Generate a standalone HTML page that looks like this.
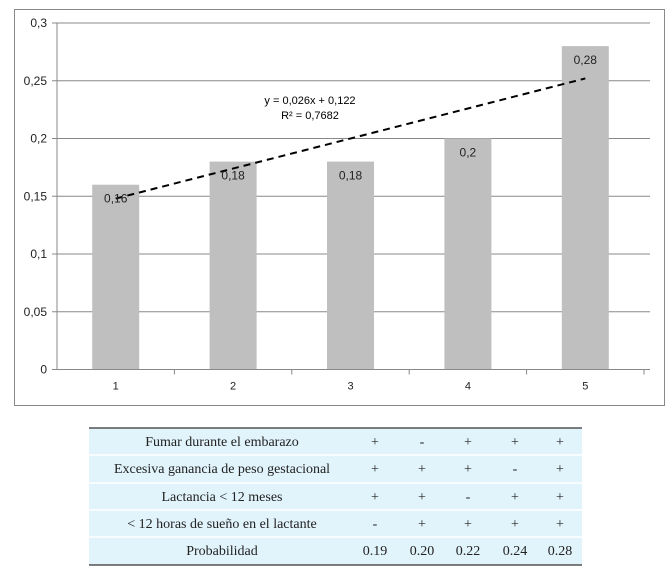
<!DOCTYPE html>
<html><head><meta charset="utf-8"><style>
body{margin:0;background:#fff;width:667px;height:572px;overflow:hidden;font-family:"Liberation Sans",sans-serif}
svg{position:absolute;left:0;top:0}
</style></head><body>
<svg width="667" height="572">
<rect x="14.5" y="9.5" width="650" height="396" fill="#fff" stroke="#888"/>
<g id="plot"></g>
<g id="tbl"></g>
</svg>
<script>
const categories=["1","2","3","4","5"];
const values=[0.16,0.18,0.18,0.2,0.28];
const labels=["0,16","0,18","0,18","0,2","0,28"];
const yTicks=[0,0.05,0.1,0.15,0.2,0.25,0.3];
const yTickLabels=["0","0,05","0,1","0,15","0,2","0,25","0,3"];
const trendSlope=0.026, trendIntercept=0.122;
const rowLabels=["Fumar durante el embarazo","Excesiva ganancia de peso gestacional","Lactancia < 12 meses","< 12 horas de sueño en el lactante","Probabilidad"];
const tableValues=[["+","-","+","+","+"],["+","+","+","-","+"],["+","+","-","+","+"],["-","+","+","+","+"],["0.19","0.20","0.22","0.24","0.28"]];

const NS="http://www.w3.org/2000/svg";
function mk(p,t,a,txt){const e=document.createElementNS(NS,t);for(const k in a)e.setAttribute(k,a[k]);if(txt!=null)e.textContent=txt;p.appendChild(e);return e;}
const x0=57,x1=644,y0=369.5,y1=23;
const y=v=>y0-(v-0)/(0.3)*(y0-y1);
const bw=(x1-x0)/categories.length;
const xc=i=>x0+bw*(i+0.5);
const g=document.getElementById('plot');
yTicks.forEach((t,i)=>{
  const l=mk(g,'line',{x1:x0-5,x2:x1+6,y1:y(t),y2:y(t),stroke:'#888','stroke-width':1});
  
  
  const tx=mk(g,'text',{x:x0-10,y:y(t)+4,'text-anchor':'end','font-size':12,fill:'#222'},yTickLabels[i]);
  
  
});
mk(g,'line',{x1:x0,x2:x0,y1:y1,y2:y0,stroke:'#888'});
categories.forEach((c,i)=>{
  const b=mk(g,'rect',{x:xc(i)-23.5,y:y(values[i]),width:47,height:y0-y(values[i]),fill:'#bfbfbf'});
  
  
  const tk=mk(g,'line',{x1:x0+bw*(i+1),x2:x0+bw*(i+1),y1:y0,y2:y0+5,stroke:'#888'});
  
  
  const t=mk(g,'text',{x:xc(i),y:y0+20,'text-anchor':'middle','font-size':11,fill:'#222'},c);
  
  
});
mk(g,'line',{x1:x0,x2:x1+6,y1:y0,y2:y0,stroke:'#888'});
const tl=mk(g,'line',{x1:xc(0),y1:y(trendSlope*1+trendIntercept),x2:xc(4),y2:y(trendSlope*5+trendIntercept),stroke:'#000','stroke-width':2,'stroke-dasharray':'7,5'});


categories.forEach((c,i)=>{
  const t=mk(g,'text',{x:xc(i),y:y(values[i])+18,'text-anchor':'middle','font-size':12,fill:'#222'},labels[i]);
  
  
});
const e1=mk(g,'text',{x:310,y:104,'text-anchor':'middle','font-size':11,fill:'#000'},'y = 0,026x + 0,122');


const e2=mk(g,'text',{x:310,y:119,'text-anchor':'middle','font-size':11,fill:'#000'},'R² = 0,7682');



const tg=document.getElementById('tbl');
const tx0=89,tx1=582,ty=[428,455,483,510,537,565];
const colX=[375,422,468,515,560];
rowLabels.forEach((r,i)=>{
  const bg=mk(tg,'rect',{x:tx0,y:ty[i],width:tx1-tx0,height:ty[i+1]-ty[i],fill:'#e1f3fb'});
  
  
  const t=mk(tg,'text',{x:222,y:ty[i]+18,'text-anchor':'middle','font-size':14,'font-family':'Liberation Serif, serif',fill:'#222'},r);
  
  
  tableValues[i].forEach((v,j)=>{
    const c=mk(tg,'text',{x:colX[j],y:ty[i]+18,'text-anchor':'middle','font-size':14,'font-family':'Liberation Serif, serif',fill:'#222'},v);
    
    
  });
});
ty.forEach((yy,i)=>{mk(tg,'line',{x1:tx0,x2:tx1,y1:yy,y2:yy,stroke:i==0||i==5?'#333':'#fff','stroke-width':i==0||i==5?1.2:1.5});});
</script>
</body></html>
